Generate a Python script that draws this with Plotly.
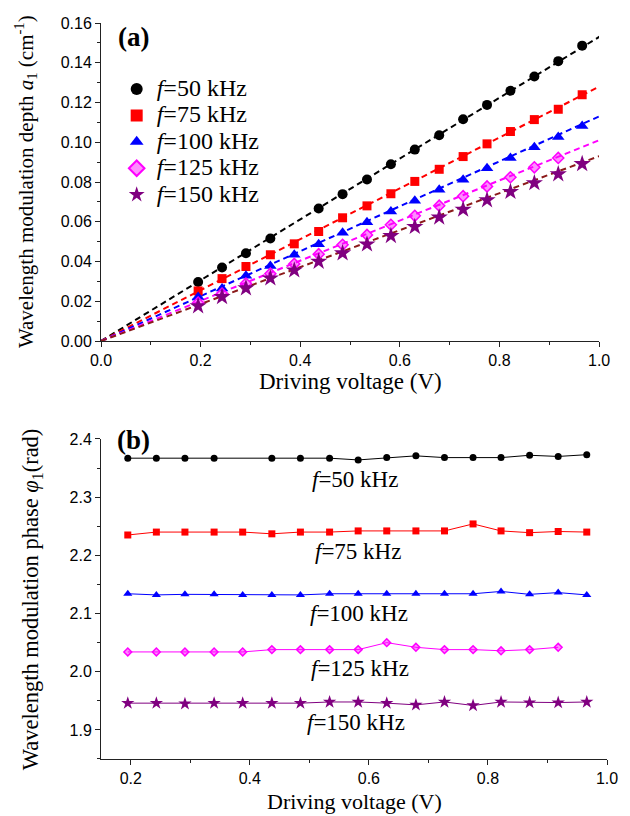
import plotly.graph_objects as go

# ---------------- data ----------------
voltage = [0.195, 0.243, 0.291, 0.340, 0.388, 0.437, 0.485, 0.534, 0.582,
           0.630, 0.679, 0.727, 0.775, 0.822, 0.870, 0.918, 0.966]
v_50 = [v for i, v in enumerate(voltage) if i != 4]   # 0.388 missing for 50 kHz
v_125 = voltage[:-1]                                    # last point missing for 125 kHz

labels = ["<i>f</i>=50 kHz", "<i>f</i>=75 kHz", "<i>f</i>=100 kHz",
          "<i>f</i>=125 kHz", "<i>f</i>=150 kHz"]

# (a) modulation depth a1 (cm^-1)
depth_50 = [0.0297, 0.0370, 0.0442, 0.0516, 0.0667, 0.0739, 0.0813, 0.0889,
            0.0963, 0.1035, 0.1116, 0.1188, 0.1259, 0.1331, 0.1408, 0.1486]
depth_75 = [0.0252, 0.0314, 0.0375, 0.0434, 0.0489, 0.0551, 0.0620, 0.0680, 0.0741,
            0.0803, 0.0864, 0.0928, 0.0992, 0.1054, 0.1114, 0.1166, 0.1239]
depth_100 = [0.0222, 0.0264, 0.0328, 0.0378, 0.0434, 0.0487, 0.0545, 0.0598, 0.0652,
             0.0706, 0.0761, 0.0812, 0.0869, 0.0921, 0.0975, 0.1027, 0.1082]
depth_125 = [0.0193, 0.0239, 0.0289, 0.0339, 0.0388, 0.0437, 0.0484, 0.0534,
             0.0585, 0.0630, 0.0681, 0.0729, 0.0778, 0.0824, 0.0874, 0.0921]
depth_150 = [0.0176, 0.0222, 0.0266, 0.0316, 0.0356, 0.0400, 0.0442, 0.0487, 0.0529,
             0.0575, 0.0622, 0.0662, 0.0709, 0.0751, 0.0795, 0.0840, 0.0891]

# linear fits through the origin (slopes)
fit_slopes = [0.153, 0.128, 0.113, 0.101, 0.093]
fit_x = [0.0, 1.03]

# (b) modulation phase phi1 (rad)
phase_50 = [2.367, 2.367, 2.367, 2.367, 2.367, 2.367, 2.367, 2.364,
            2.368, 2.371, 2.368, 2.368, 2.368, 2.372, 2.370, 2.373]
phase_75 = [2.235, 2.240, 2.240, 2.240, 2.240, 2.237, 2.240, 2.240, 2.242,
            2.242, 2.242, 2.242, 2.254, 2.242, 2.239, 2.241, 2.240]
phase_100 = [2.134, 2.132, 2.133, 2.133, 2.132, 2.132, 2.132, 2.134, 2.134,
             2.134, 2.134, 2.134, 2.134, 2.138, 2.133, 2.136, 2.132]
phase_125 = [2.034, 2.034, 2.034, 2.034, 2.034, 2.038, 2.038, 2.038,
             2.038, 2.050, 2.042, 2.038, 2.038, 2.036, 2.038, 2.042]
phase_150 = [1.946, 1.946, 1.945, 1.946, 1.946, 1.946, 1.946, 1.948, 1.948,
             1.946, 1.943, 1.948, 1.942, 1.948, 1.947, 1.947, 1.948]

# label positions in panel (b) (data coords)
label_b_x = [0.577, 0.582, 0.584, 0.585, 0.578]
label_b_y = [2.330, 2.207, 2.0995, 2.006, 1.9125]

# ---------------- styles ----------------
colors = ["#000000", "#ff0000", "#0000ff", "#ff00ff", "#800080"]
fit_colors = ["#000000", "#ff0000", "#0000ff", "#ff00ff", "#8b1a1a"]
symbols = ["circle", "square", "triangle-up", "diamond", "star"]
size_a = [10, 9, 11, 8.5, 13]
size_b = [7, 7, 8, 6, 10]

xs = [v_50, voltage, voltage, v_125, voltage]
depths = [depth_50, depth_75, depth_100, depth_125, depth_150]
phases = [phase_50, phase_75, phase_100, phase_125, phase_150]

SERIF = "Liberation Serif, Times New Roman, serif"
SANS = "Liberation Sans, Arial, sans-serif"

fig = go.Figure()

# fit lines (a)
for k in range(5):
    fig.add_trace(go.Scatter(
        x=fit_x, y=[fit_slopes[k] * x for x in fit_x], mode="lines",
        line=dict(color=fit_colors[k], width=2, dash="6px,4px"),
        showlegend=False, hoverinfo="skip", xaxis="x", yaxis="y"))

def marker_style(k, size):
    if symbols[k] == "diamond":
        return dict(symbol="diamond", size=size, color="rgba(255,0,255,0.45)",
                    line=dict(color=colors[k], width=1.5))
    return dict(symbol=symbols[k], size=size, color=colors[k], line=dict(width=0))

# markers (a)
for k in range(5):
    fig.add_trace(go.Scatter(
        x=xs[k], y=depths[k], mode="markers",
        name='<span style="font-size:24px">' + labels[k] + '</span>',
        marker=marker_style(k, size_a[k]), xaxis="x", yaxis="y"))

# phase (b)
for k in range(5):
    fig.add_trace(go.Scatter(
        x=xs[k], y=phases[k], mode="lines+markers", showlegend=False,
        line=dict(color=colors[k], width=1),
        marker=marker_style(k, size_b[k]), xaxis="x2", yaxis="y2"))

axis_common = dict(showline=True, linecolor="#222", linewidth=1, mirror=False,
                   showgrid=False, zeroline=False, ticks="outside", ticklen=5,
                   tickwidth=1, tickcolor="#222",
                   tickfont=dict(family=SANS, size=16, color="#000"))

fig.update_layout(
    width=630, height=816,
    margin=dict(l=101, r=15, t=23, b=57),
    paper_bgcolor="white", plot_bgcolor="white",
    xaxis=dict(domain=[0, 0.9844], range=[0, 1.0], anchor="y", dtick=0.2,
               tickformat=".1f",
               minor=dict(dtick=0.1, ticks="outside", ticklen=3, tickcolor="#222"),
               **axis_common),
    yaxis=dict(domain=[0.5679, 1.0], range=[0, 0.16], anchor="x", dtick=0.02,
               tickformat=".2f",
               minor=dict(dtick=0.01, ticks="outside", ticklen=3, tickcolor="#222"),
               **axis_common),
    xaxis2=dict(domain=[0, 1.0], range=[0.15, 1.0], anchor="y2", tick0=0.2, dtick=0.2,
                tickformat=".1f",
                minor=dict(tick0=0.1, dtick=0.1, ticks="outside", ticklen=3, tickcolor="#222"),
                **axis_common),
    yaxis2=dict(domain=[0, 0.4348], range=[1.85, 2.4], anchor="x2", tick0=1.9, dtick=0.1,
                tickformat=".1f",
                minor=dict(tick0=1.85, dtick=0.05, ticks="outside", ticklen=3, tickcolor="#222"),
                **axis_common),
    legend=dict(x=0.031, y=0.935, xanchor="left", yanchor="top",
                font=dict(family=SERIF, size=18, color="#000"),
                bgcolor="rgba(0,0,0,0)", tracegroupgap=0, itemwidth=30,
                itemsizing="constant"),
    showlegend=True,
)

ann = []
ann.append(dict(text="Driving voltage (V)", xref="x domain", yref="paper", x=0.5,
                y=(759 - 381) / 736, xanchor="center", yanchor="middle", showarrow=False,
                font=dict(family=SERIF, size=23, color="#000")))
ann.append(dict(text="Driving voltage (V)", xref="x2 domain", yref="paper", x=0.5,
                y=(759 - 801) / 736, xanchor="center", yanchor="middle", showarrow=False,
                font=dict(family=SERIF, size=22, color="#000")))
ann.append(dict(text="Wavelength modulation depth <i>a</i><sub>1</sub> (cm<sup>-1</sup>)",
                xref="paper", yref="y domain", x=-0.150, y=0.5, textangle=-90,
                xanchor="center", yanchor="middle", showarrow=False,
                font=dict(family=SERIF, size=21, color="#000")))
ann.append(dict(text="Wavelength modulation phase <i>φ</i><sub>1</sub>(rad)",
                xref="paper", yref="y2 domain", x=-0.136, y=0.5, textangle=-90,
                xanchor="center", yanchor="middle", showarrow=False,
                font=dict(family=SERIF, size=22.5, color="#000")))
ann.append(dict(text="<b>(a)</b>", xref="paper", yref="paper", x=0.064, y=0.981,
                xanchor="center", yanchor="middle", showarrow=False,
                font=dict(family=SERIF, size=27, color="#000")))
ann.append(dict(text="<b>(b)</b>", xref="paper", yref="paper", x=0.064, y=0.4334,
                xanchor="center", yanchor="middle", showarrow=False,
                font=dict(family=SERIF, size=27, color="#000")))
for k in range(5):
    ann.append(dict(text=labels[k], xref="x2", yref="y2", x=label_b_x[k], y=label_b_y[k],
                    xanchor="center", yanchor="middle", showarrow=False,
                    font=dict(family=SERIF, size=23, color="#000")))
fig.update_layout(annotations=ann)

fig.write_html("out.html")
